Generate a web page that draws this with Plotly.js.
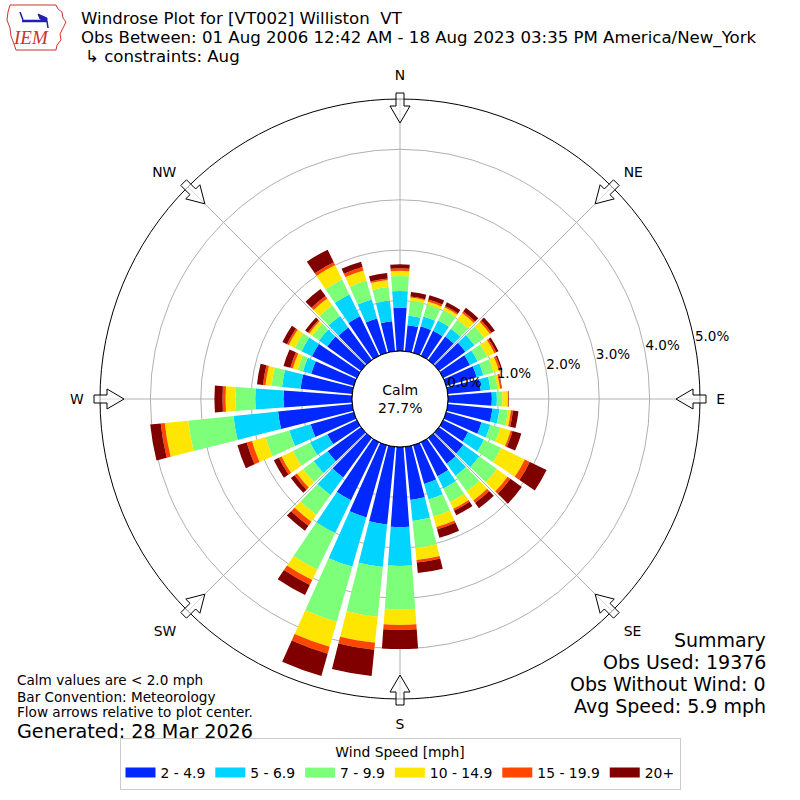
<!DOCTYPE html>
<html>
<head>
<meta charset="utf-8">
<script src="https://cdn.plot.ly/plotly-3.0.1.min.js"></script>
<style>html,body{margin:0;padding:0;background:#fff;}#chart{width:800px;height:800px;}</style>
</head>
<body>
<div id="chart"></div>
<script>
// ---- data (percent of observations) ----
const directions = [0,10,20,30,40,50,60,70,80,90,100,110,120,130,140,150,160,170,180,190,200,210,220,230,240,250,260,270,280,290,300,310,320,330,340,350];
const speedBins = ['2 - 4.9','5 - 6.9','7 - 9.9','10 - 14.9','15 - 19.9','20+'];
const binColors = ['#0028ff','#00d4ff','#7dff7a','#ffe600','#ff4700','#800000'];
const s2to5   = [0.86,0.52,0.55,0.55,0.58,0.65,0.59,0.63,0.66,0.87,0.89,0.73,0.55,0.60,0.63,0.75,0.80,1.06,1.59,1.55,1.49,1.28,0.97,0.82,0.65,0.89,1.48,1.36,1.03,0.88,0.99,0.83,0.80,0.87,0.71,0.60];
const s5to7   = [0.33,0.19,0.20,0.23,0.19,0.22,0.17,0.14,0.19,0.10,0.14,0.18,0.35,0.39,0.30,0.27,0.32,0.42,0.77,0.85,1.02,0.72,0.43,0.34,0.38,0.44,0.89,0.56,0.37,0.17,0.23,0.20,0.28,0.48,0.39,0.41];
const s7to10  = [0.30,0.30,0.25,0.23,0.22,0.24,0.21,0.21,0.14,0.11,0.17,0.21,0.38,0.43,0.38,0.30,0.35,0.54,0.86,0.99,1.13,0.81,0.48,0.26,0.38,0.49,0.90,0.39,0.21,0.11,0.15,0.16,0.26,0.33,0.39,0.27];
const s10to15 = [0.10,0.06,0.06,0.06,0.16,0.14,0.16,0.11,0.05,0.11,0.06,0.21,0.52,0.26,0.22,0.15,0.22,0.24,0.31,0.52,0.52,0.23,0.17,0.15,0.25,0.28,0.47,0.20,0.12,0.10,0.13,0.08,0.17,0.32,0.21,0.14];
const s15to20 = [0.05,0.02,0.04,0.03,0.04,0.04,0.04,0.04,0.03,0.01,0.04,0.04,0.11,0.07,0.06,0.04,0.05,0.05,0.10,0.14,0.14,0.11,0.10,0.06,0.06,0.11,0.08,0.06,0.05,0.05,0.04,0.03,0.06,0.06,0.07,0.03];
const s20plus = [0.08,0.09,0.09,0.08,0.09,0.08,0.05,0.03,0.01,0.01,0.11,0.18,0.37,0.28,0.13,0.10,0.17,0.21,0.38,0.52,0.46,0.22,0.12,0.09,0.11,0.19,0.21,0.16,0.12,0.14,0.10,0.07,0.17,0.28,0.11,0.11];
const calmPct = 27.7;
const radialTicks = [0,1,2,3,4,5];
const radialTickText = ['0.0%','1.0%','2.0%','3.0%','4.0%','5.0%'];
const compassVals = [0,45,90,135,180,225,270,315];
const compassText = ['N','NE','E','SE','S','SW','W','NW'];

const series = [s2to5,s5to7,s7to10,s10to15,s15to20,s20plus];
const FONT = 'DejaVu Sans, sans-serif';

const traces = [];
series.forEach((vals,i)=>{
  traces.push({
    type:'barpolar', r: vals, theta: directions, width: 8.3,
    name: speedBins[i], marker:{color: binColors[i], line:{width:0}},
    showlegend:false, hoverinfo:'skip'
  });
});
// legend entries (wide swatches)
speedBins.forEach((nm,i)=>{
  traces.push({type:'scatterpolar', r:[null], theta:[null], mode:'lines', name:nm,
    line:{color:binColors[i], width:10}, showlegend:true, hoverinfo:'skip'});
});
// calm circle at hole edge
const circTheta = []; for (let t=0;t<=360;t+=2) circTheta.push(t);
traces.push({type:'scatterpolar', r: circTheta.map(()=>0), theta: circTheta, mode:'lines',
  line:{color:'black', width:1}, showlegend:false, hoverinfo:'skip', cliponaxis:false});
// radial tick labels
traces.push({type:'scatterpolar', r: radialTicks, theta: radialTicks.map(()=>79.5), mode:'text',
  text: radialTickText, textposition:'top right', textfont:{family:FONT,size:13.5,color:'black'},
  showlegend:false, hoverinfo:'skip', cliponaxis:false});

// geometry helpers for decorations (paper px)
const CX=400, CY=399;
function P(r,c,th){const a=th*Math.PI/180;return [(CX + r*Math.sin(a) + c*Math.cos(a))/800, 1-(CY - r*Math.cos(a) + c*Math.sin(a))/800];}
const shapes = [];
compassVals.forEach(th=>{
  const pts=[[306,-4],[293,-4],[293,-10],[276,0],[293,10],[293,4],[306,4]].map(p=>P(p[0],p[1],th));
  const d='M'+pts.map(p=>p[0].toFixed(5)+','+p[1].toFixed(5)).join(' L')+' Z';
  shapes.push({type:'path', xref:'paper', yref:'paper', path:d, line:{color:'black',width:1}, fillcolor:'rgba(255,255,255,0.55)', layer:'above'});
});
// logo outline
function px(x,y){return (x/800).toFixed(5)+','+(1-y/800).toFixed(5);}
const iowa=[[10,5],[56,5],[58,9],[62,12],[63,18],[66,22],[63,28],[60,34],[61,40],[57,45],[56,50],[16,50],[14,44],[11,36],[10,28],[7,20],[8,12]];
shapes.push({type:'path',xref:'paper',yref:'paper',path:'M'+iowa.map(p=>px(p[0],p[1])).join(' L')+' Z',line:{color:'#d03030',width:1}});
shapes.push({type:'path',xref:'paper',yref:'paper',path:'M'+px(22,21)+' L'+px(47,21),line:{color:'#1f1fb0',width:2.5}});
shapes.push({type:'path',xref:'paper',yref:'paper',path:'M'+px(38,14)+' L'+px(47,18)+' L'+px(47,21)+' L'+px(40,19)+' Z',line:{color:'#1f1fb0',width:1},fillcolor:'#1f1fb0'});
shapes.push({type:'path',xref:'paper',yref:'paper',path:'M'+px(20,12)+' L'+px(23,20),line:{color:'#1f1fb0',width:1.5}});
shapes.push({type:'path',xref:'paper',yref:'paper',path:'M'+px(47,21)+' L'+px(48,28),line:{color:'#1f1fb0',width:1.5}});

function ann(text,x,y,size,xa,opt){return Object.assign({text:text,x:x/800,y:1-y/800,xref:'paper',yref:'paper',showarrow:false,borderpad:0,xanchor:xa||'left',yanchor:'middle',font:{family:FONT,size:size,color:'black'}},opt||{});}
const annotations=[
  ann('Windrose Plot for [VT002] Williston  VT',80,18.5,16.6),
  ann('Obs Between: 01 Aug 2006 12:42 AM - 18 Aug 2023 03:35 PM America/New_York',80,38,16.6),
  ann('\u21b3 constraints: Aug',84,56,16.6),
  ann('Calm<br>'+calmPct.toFixed(1)+'%',CX,CY,14,'center'),
  ann('Summary',767,640,19,'right'),
  ann('Obs Used: 19376',767,662,19,'right'),
  ann('Obs Without Wind: 0',767,684,19,'right'),
  ann('Avg Speed: 5.9 mph',767,706,19,'right'),
  ann('Calm values are < 2.0 mph',16,680,13.6),
  ann('Bar Convention: Meteorology',16,697,13.6),
  ann('Flow arrows relative to plot center.',16,712,13.6),
  ann('Generated: 28 Mar 2026',16,731,19.2),
  ann('<i>IEM</i>',31,38,19,'center',{font:{family:'Liberation Serif, serif',size:19,color:'#d03030'}})
];

const layout={
  width:800,height:800,margin:{l:0,r:0,t:0,b:0},paper_bgcolor:'white',
  font:{family:FONT,size:13,color:'black'},
  polar:{
    domain:{x:[0.125,0.875],y:[0.12625,0.87625]},
    hole:0.16, bgcolor:'white', barmode:'stack', bargap:0,
    radialaxis:{range:[0,5],tickvals:radialTicks,showticklabels:false,ticks:'',showline:false,
      gridcolor:'#b0b0b0',gridwidth:1,angle:79,layer:'above traces'},
    angularaxis:{rotation:90,direction:'clockwise',tickmode:'array',tickvals:compassVals,ticktext:compassText,
      gridcolor:'#b0b0b0',gridwidth:1,showline:true,linecolor:'black',linewidth:1,
      ticks:'outside',ticklen:13,tickcolor:'rgba(0,0,0,0)',tickfont:{family:FONT,size:13.9,color:'black'},layer:'above traces'}
  },
  showlegend:true,
  legend:{orientation:'h',x:0.5,xanchor:'center',y:0.0125,yanchor:'bottom',
    bordercolor:'#cccccc',borderwidth:1,bgcolor:'white',
    font:{family:FONT,size:13.9,color:'black'},
    title:{text:'Wind Speed [mph]',side:'top center',font:{family:FONT,size:13.9,color:'black'}},
    itemwidth:30},
  shapes:shapes, annotations:annotations
};
Plotly.newPlot('chart',traces,layout,{displayModeBar:false,staticPlot:true});
</script>
</body>
</html>
